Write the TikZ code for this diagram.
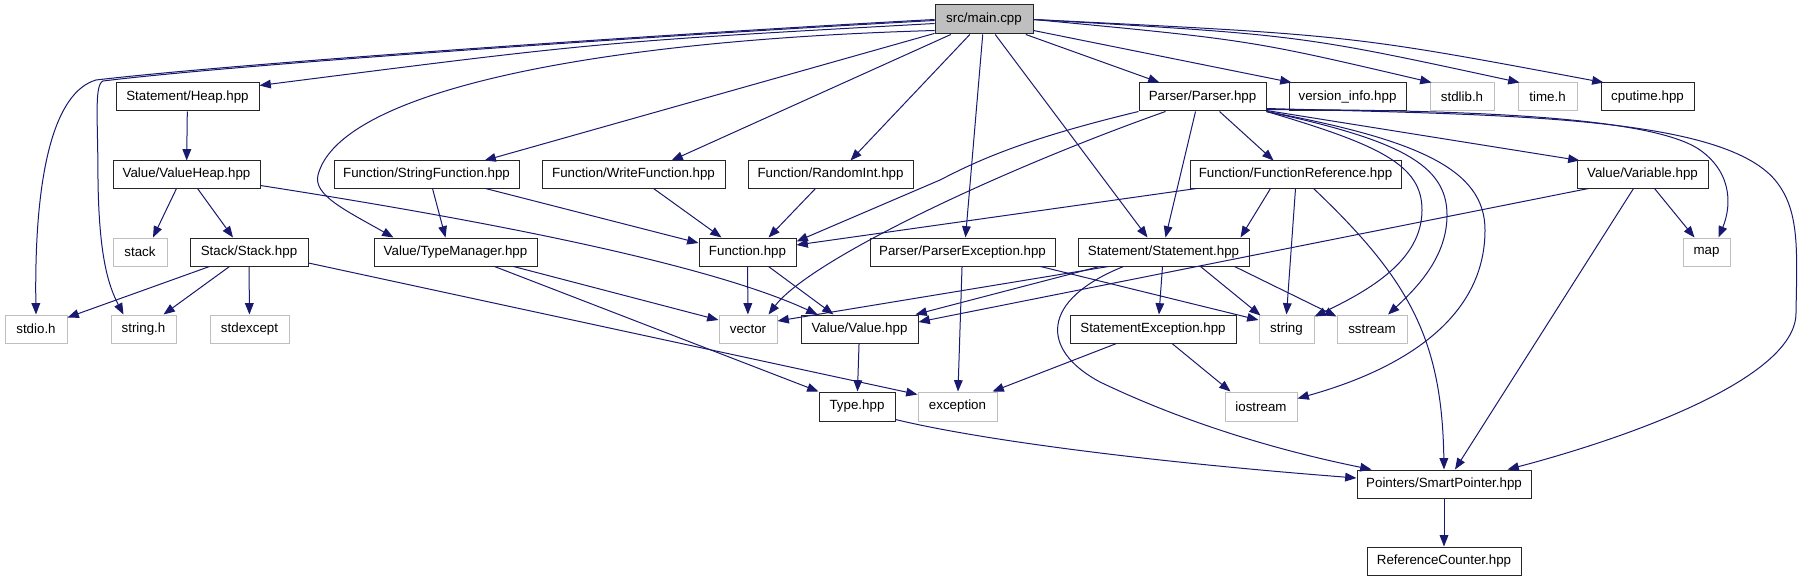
\documentclass[tikz,border=0pt]{standalone}
\usepackage{fontspec}
\setmainfont{Liberation Sans}
\usetikzlibrary{calc,arrows.meta}
\definecolor{edgecol}{HTML}{191970}
\definecolor{grayline}{HTML}{BFBFBF}
\tikzset{
  box/.style={draw=black!85, line width=0.75pt, inner sep=0pt, font=\fontsize{10}{12}\selectfont},
  ext/.style={draw=grayline, line width=0.75pt, inner sep=0pt, font=\fontsize{10}{12}\selectfont},
  rootbox/.style={box, fill=grayline},
  edge/.style={draw=edgecol, line width=0.75pt, -{Triangle[length=8.5pt,width=6.5pt]}}
}
\newcommand\nd[7]{\node[#7, minimum width={(#4-#2)*0.75pt}, minimum height={(#5-#3)*0.75pt}] (#1) at ({(#2+#4)/2},{(#3+#5)/2}) {#6};}
\begin{document}
\begin{tikzpicture}[x=0.75pt,y=-0.75pt]
\useasboundingbox[fill=white] (0,0) rectangle (1801,581);
% row 0
\nd{main}{935}{5}{1033}{34}{src/main.cpp}{rootbox}
% row 1
\nd{heap}{116}{83}{259}{111}{Statement/Heap.hpp}{box}
\nd{parser}{1139}{83}{1266}{111}{Parser/Parser.hpp}{box}
\nd{verinfo}{1289}{83}{1406}{111}{version\_info.hpp}{box}
\nd{stdlib}{1430}{83}{1494}{111}{stdlib.h}{ext}
\nd{timeh}{1518}{83}{1577}{111}{time.h}{ext}
\nd{cputime}{1601}{83}{1694}{111}{cputime.hpp}{box}
% row 2
\nd{valueheap}{113}{161}{260}{188}{Value/ValueHeap.hpp}{box}
\nd{strfunc}{334}{161}{519}{188}{Function/StringFunction.hpp}{box}
\nd{writefunc}{542}{161}{725}{188}{Function/WriteFunction.hpp}{box}
\nd{randint}{748}{161}{913}{188}{Function/RandomInt.hpp}{box}
\nd{funcref}{1190}{161}{1401}{188}{Function/FunctionReference.hpp}{box}
\nd{variable}{1577}{161}{1708}{188}{Value/Variable.hpp}{box}
% row 3
\nd{stack}{113}{238}{167}{266}{stack}{ext}
\nd{stackhpp}{190}{238}{308}{266}{Stack/Stack.hpp}{box}
\nd{typemgr}{374}{238}{537}{266}{Value/TypeManager.hpp}{box}
\nd{function}{699}{238}{796}{266}{Function.hpp}{box}
\nd{parserexc}{870}{238}{1055}{266}{Parser/ParserException.hpp}{box}
\nd{statement}{1078}{238}{1249}{266}{Statement/Statement.hpp}{box}
\nd{map}{1683}{238}{1730}{266}{map}{ext}
% row 4
\nd{stdio}{5}{315}{67}{343}{stdio.h}{ext}
\nd{stringh}{111}{315}{176}{343}{string.h}{ext}
\nd{stdexcept}{210}{315}{289}{343}{stdexcept}{ext}
\nd{vector}{719}{315}{777}{343}{vector}{ext}
\nd{value}{801}{315}{918}{343}{Value/Value.hpp}{box}
\nd{stmtexc}{1070}{315}{1236}{343}{StatementException.hpp}{box}
\nd{string}{1259}{315}{1314}{343}{string}{ext}
\nd{sstream}{1337}{315}{1407}{343}{sstream}{ext}
% row 5
\nd{type}{819}{392}{895}{421}{Type.hpp}{box}
\nd{exception}{918}{392}{997}{421}{exception}{ext}
\nd{iostream}{1225}{392}{1297}{421}{iostream}{ext}
% row 6,7
\nd{smartptr}{1357}{470}{1531}{498}{Pointers/SmartPointer.hpp}{box}
\nd{refcount}{1367}{547}{1521}{575}{ReferenceCounter.hpp}{box}

\begin{scope}[every path/.style={edge}]
% from main
\draw (main.west) .. controls (700,32) and (250,62) .. (96,80) .. controls (55,92) and (34,170) .. (stdio.north);
\draw ($(main.west)+(0,1)$) .. controls (700,33) and (250,63) .. (103,81) .. controls (94,85) and (98,120) .. (98,180) .. controls (99,255) and (108,285) .. ($(stringh.north west)+(13,0)$);
\draw ($(main.west)+(0,4)$) .. controls (600,42) .. ($(heap.north east)+(0,3)$);
\draw ($(main.south west)+(0,-4)$) .. controls (600,40) and (340,90) .. (318,175) .. controls (313,195) and (345,210) .. ($(typemgr.north west)+(20,0)$);
\draw (main) -- ($(strfunc.north)+(58,0)$);
\draw (main) -- ($(writefunc.north)+(38,0)$);
\draw (main) -- ($(randint.north)+(20,0)$);
\draw (main) -- ($(parserexc.north)+(3,0)$);
\draw (main) -- ($(statement.north)+(-16,0)$);
\draw (main) -- ($(parser.north)+(-43,0)$);
\draw ($(main.south east)+(0,-4)$) -- ($(verinfo.north west)+(3,0)$);
\draw (main.east) .. controls (1250,40) .. ($(stdlib.north west)+(2,0)$);
\draw (main.east) .. controls (1300,35) .. ($(timeh.north west)+(2,0)$);
\draw (main.east) .. controls (1350,35) .. ($(cputime.north west)+(3,0)$);
% heap / valueheap / stack
\draw (heap) -- (valueheap);
\draw ($(valueheap.south)+(-10,0)$) -- ($(stack.north)+(13,0)$);
\draw ($(valueheap.south)+(11,0)$) -- ($(stackhpp.north)+(-16,0)$);
\draw ($(valueheap.south east)+(0,-3)$) .. controls (450,215) and (700,260) .. ($(value.north west)+(17,0)$);
\draw ($(stackhpp.south west)+(20,0)$) -- ($(stdio.north east)+(0,3)$);
\draw ($(stackhpp.south west)+(40,0)$) -- ($(stringh.north east)+(-13,0)$);
\draw (stackhpp) -- (stdexcept);
\draw ($(stackhpp.east)+(0,11)$) -- ($(exception.north west)+(0,3)$);
% typemanager
\draw ($(typemgr.south east)+(-24,0)$) -- ($(vector.west)+(0,-9)$);
\draw ($(typemgr.south east)+(-43,0)$) -- (type.north west);
% functions
\draw ($(strfunc.south)+(6,0)$) -- ($(typemgr.north)+(-10,0)$);
\draw ($(strfunc.south east)+(-34,0)$) -- ($(function.west)+(0,-9)$);
\draw ($(writefunc.south)+(20,0)$) -- ($(function.north west)+(23,0)$);
\draw ($(randint.south)+(-15,0)$) -- ($(function.north east)+(-28,0)$);
\draw (function) -- (vector);
\draw ($(function.south)+(21,0)$) -- ($(value.north)+(-26,0)$);
% parser
\draw (parser.south west) .. controls (1020,140) and (975,162) .. (940,180) -- ($(function.north east)+(0,4)$);
\draw ($(parser.south)+(-37,0)$) .. controls (1000,170) and (810,260) .. ($(vector.north east)+(-9,0)$);
\draw ($(parser.south)+(-7,0)$) -- ($(statement.north)+(2,0)$);
\draw ($(parser.south)+(17,0)$) -- ($(funcref.north)+(-22,0)$);
\draw ($(parser.south east)+(0,-1)$) -- ($(variable.north west)+(3,0)$);
\draw (parser.south east) .. controls (1380,145) and (1422,165) .. (1422,210) .. controls (1422,260) and (1370,290) .. ($(string.north east)+(0,2)$);
\draw (parser.south east) .. controls (1400,140) and (1447,165) .. (1447,215) .. controls (1447,255) and (1420,285) .. ($(sstream.north)+(16,0)$);
\draw (parser.south east) .. controls (1420,140) and (1485,170) .. (1485,230) .. controls (1485,320) and (1400,370) .. ($(iostream.east)+(0,-8)$);
\draw ($(parser.south east)+(0,-2)$) .. controls (1450,110) and (1650,115) .. (1700,150) .. controls (1735,175) and (1730,210) .. ($(map.north)+(12,0)$);
\draw ($(parser.south east)+(0,-3)$) .. controls (1500,115) and (1720,115) .. (1775,180) .. controls (1800,210) and (1797,250) .. (1796,313) .. controls (1796,380) and (1620,440) .. ($(smartptr.north east)+(-24,0)$);
% function reference
\draw ($(funcref.south west)+(7,0)$) -- ($(function.east)+(0,-7)$);
\draw ($(funcref.south)+(-25,0)$) -- ($(statement.north east)+(-9,0)$);
\draw (funcref.south) -- (string.north);
\draw ($(funcref.south)+(18,0)$) .. controls (1410,280) and (1442,340) .. (smartptr.north);
% variable
\draw ($(variable.south west)+(12,0)$) -- ($(value.east)+(0,-7)$);
\draw ($(variable.south)+(-9,0)$) -- ($(smartptr.north)+(11,0)$);
\draw ($(variable.south)+(12,0)$) -- ($(map.north)+(-12,0)$);
% statement
\draw ($(statement.south west)+(31,0)$) -- ($(vector.east)+(0,-8)$);
\draw ($(statement.south west)+(22,0)$) -- ($(value.north east)+(-3,0)$);
\draw ($(statement.south)+(-1,0)$) -- ($(stmtexc.north)+(6,0)$);
\draw ($(statement.south east)+(-49,0)$) -- ($(string.north west)+(2,1)$);
\draw ($(statement.south east)+(-15,0)$) -- ($(sstream.north west)+(0,2)$);
\draw ($(statement.south)+(-40,0)$) .. controls (1040,300) and (1040,350) .. (1100,382) .. controls (1200,430) and (1300,455) .. ($(smartptr.north west)+(15,0)$);
% parser exception
\draw ($(parserexc.south east)+(-15,0)$) -- ($(string.west)+(0,-9)$);
\draw (parserexc) -- (exception);
% statement exception
\draw ($(stmtexc.south west)+(47,0)$) -- ($(exception.north east)+(-5,0)$);
\draw ($(stmtexc.south)+(19,0)$) -- ($(iostream.north west)+(6,0)$);
% value, type, smart pointer
\draw (value) -- (type);
\draw ($(type.south east)+(0,-2)$) .. controls (980,440) and (1150,462) .. ($(smartptr.west)+(0,-6)$);
\draw (smartptr) -- (refcount);
\end{scope}
\end{tikzpicture}
\end{document}
